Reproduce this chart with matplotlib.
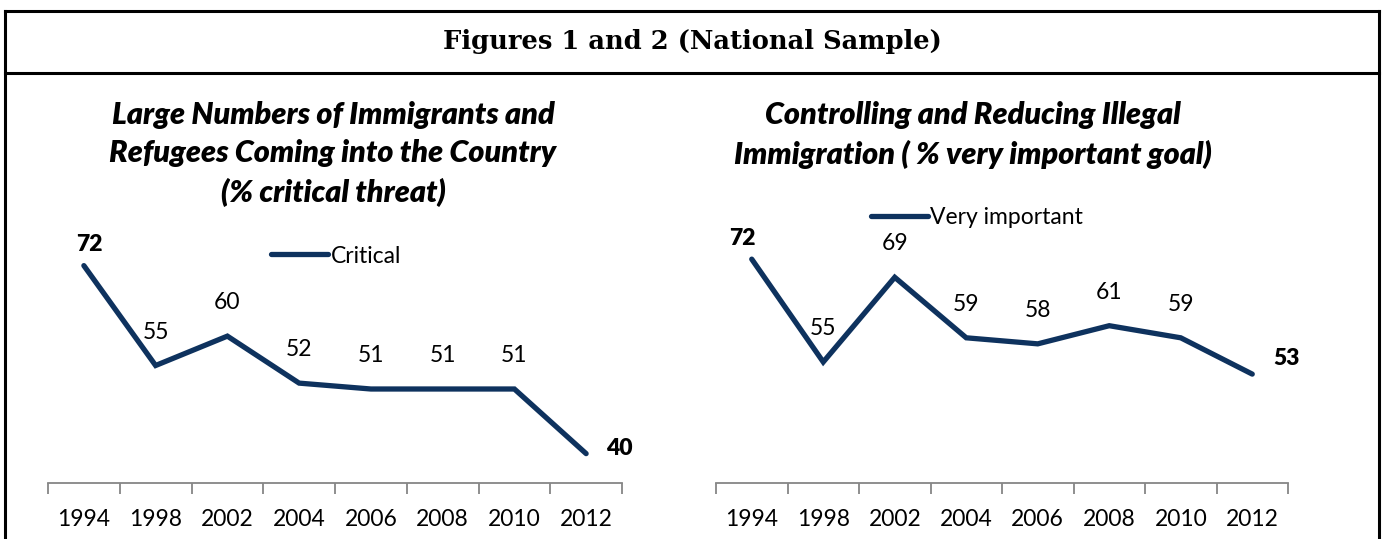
import matplotlib.pyplot as plt
from matplotlib.lines import Line2D

# data
years = ['1994', '1998', '2002', '2004', '2006', '2008', '2010', '2012']
critical = [72, 55, 60, 52, 51, 51, 51, 40]
very_important = [72, 55, 69, 59, 58, 61, 59, 53]

title_main = 'Figures 1 and 2 (National Sample)'
title_left = 'Large Numbers of Immigrants and\nRefugees Coming into the Country\n(% critical threat)'
title_right = 'Controlling and Reducing Illegal\nImmigration ( % very important goal)'

navy = '#0E325E'
W, H = 1383, 539
fig = plt.figure(figsize=(W / 100, H / 100), dpi=100)
plt.rcParams['font.family'] = ['Lato', 'DejaVu Sans']


def px(x0, y0, x1, y1):
    # pixel box (top-left origin) -> figure fraction rect
    return [x0 / W, 1 - y1 / H, (x1 - x0) / W, (y1 - y0) / H]


# outer frame and title bar
for xs, ys in [([5, 1379], [11, 11]), ([5, 1379], [73, 73]),
               ([5, 5], [11, 539]), ([1379, 1379], [11, 539])]:
    fig.add_artist(Line2D([x / W for x in xs], [1 - y / H for y in ys],
                          color='black', lw=2.2, solid_capstyle='projecting'))
fig.text(692 / W, 1 - 42 / H, title_main, ha='center', va='center',
         family='DejaVu Serif', fontweight='bold', fontsize=18.5)


def panel(rect, values, offsets, bold_idx, label, leg_xy):
    ax = fig.add_axes(rect)
    x = list(range(len(years)))
    ax.plot(x, values, color=navy, lw=3.8, solid_capstyle='round',
            solid_joinstyle='miter', label=label)
    ax.set_xlim(-0.5, len(years) - 0.5)
    ax.set_ylim(35, 75)
    for s in ['top', 'right', 'left']:
        ax.spines[s].set_visible(False)
    ax.spines['bottom'].set_color('#868686')
    ax.spines['bottom'].set_linewidth(1.3)
    ax.set_yticks([])
    ax.set_xticks([i - 0.5 for i in range(len(years) + 1)])
    ax.set_xticklabels([])
    ax.tick_params(axis='x', which='major', length=8, width=1.3,
                   color='#868686', direction='out')
    ax.set_xticks(x, minor=True)
    ax.set_xticklabels(years, minor=True, fontsize=16.5)
    ax.tick_params(axis='x', which='minor', length=0, pad=19)
    for i, v in enumerate(values):
        dx, dy = offsets.get(i, (0, 24))
        ax.annotate(str(v), (i, v), xytext=(dx, dy), textcoords='offset points',
                    ha='center', va='center', fontsize=16.5,
                    fontweight='heavy' if i in bold_idx else 'normal')
    ax.legend(loc='center', bbox_to_anchor=leg_xy, bbox_transform=fig.transFigure,
              frameon=False, fontsize=16.5, handlelength=2.5, handletextpad=0.1)
    return ax


panel(px(48, 248, 622, 483), critical,
      {0: (4, 15), 7: (24, 4)}, [0, 7], 'Critical', (336 / W, 1 - 256 / H))
panel(px(716, 241, 1288, 483), very_important,
      {0: (-7, 15), 7: (25, 11)}, [0, 7], 'Very important', (977 / W, 1 - 218 / H))

fig.text(333 / W, 1 - 154 / H, title_left, ha='center', va='center',
         fontsize=22, fontweight='heavy', style='italic', linespacing=1.45)
fig.text(973 / W, 1 - 135 / H, title_right, ha='center', va='center',
         fontsize=22, fontweight='heavy', style='italic', linespacing=1.45)

fig.savefig('out.png', dpi=100)
